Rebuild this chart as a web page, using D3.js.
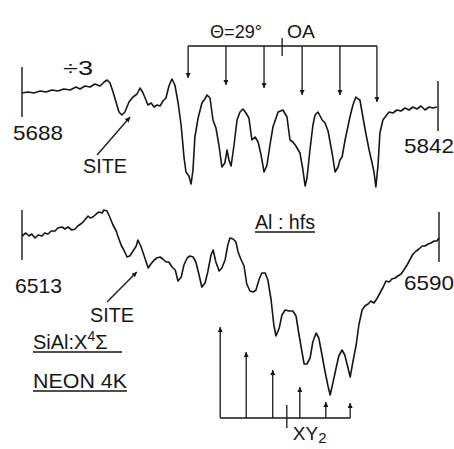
<!DOCTYPE html>
<html><head><meta charset="utf-8">
<script src="https://cdn.jsdelivr.net/npm/d3@7"></script>
<style>
html,body{margin:0;padding:0;background:#fff;}
svg{display:block;}
text{font-family:"Liberation Sans",Arial,Helvetica,sans-serif;fill:#161616;}
</style></head><body>
<svg id="chart" width="454" height="449"></svg>
<script>
// Upper ESR trace (field in G, derivative signal in arbitrary units, shown ÷3)
const topRange = [5688, 5842];
const topField = [
  5688.0, 5690.2, 5692.4, 5694.7, 5696.9, 5699.1, 5701.3, 5703.5, 5705.8, 5708.0,
  5709.5, 5711.3, 5713.2, 5715.0, 5716.9, 5718.4, 5719.5, 5720.6, 5721.7, 5722.8,
  5723.9, 5725.0, 5726.1, 5727.6, 5729.1, 5730.6, 5731.7, 5732.8, 5733.9, 5734.6,
  5735.8, 5736.9, 5738.0, 5739.1, 5740.2, 5741.3, 5742.4, 5743.5, 5744.6, 5745.8,
  5746.9, 5748.0, 5748.7, 5749.8, 5750.6, 5751.3, 5752.0, 5753.2, 5754.6, 5755.7,
  5756.5, 5757.6, 5758.7, 5759.8, 5760.9, 5762.0, 5763.1, 5763.9, 5764.6, 5765.4,
  5766.5, 5767.6, 5768.7, 5769.8, 5770.9, 5772.0, 5773.1, 5774.3, 5775.4, 5776.5,
  5777.6, 5778.7, 5779.8, 5780.9, 5782.8, 5784.6, 5786.1, 5787.2, 5788.3, 5789.4,
  5790.9, 5792.0, 5792.8, 5793.5, 5794.6, 5795.7, 5796.5, 5797.6, 5799.1, 5800.2,
  5801.3, 5802.8, 5803.9, 5805.0, 5805.7, 5806.5, 5807.6, 5809.4, 5810.5, 5811.6,
  5812.4, 5813.1, 5814.2, 5815.4, 5816.5, 5817.6, 5818.3, 5819.0, 5819.8, 5820.5,
  5821.6, 5822.7, 5823.9, 5825.3, 5826.8, 5828.3, 5829.8, 5831.3, 5832.7, 5834.2,
  5835.7, 5837.2, 5838.7, 5840.1, 5841.6
];
const topSignal = [
  0, 1, 0, 2, 1, 3, 2, 4, 3, 6,
  4, 7, 6, 9, 7, 11, 13, 10, 1, -9,
  -19, -22, -19, -9, -4, -1, 5, 0, -7, -12,
  -10, -14, -12, -13, -8, -5, 7, 14, 8, -10,
  -32, -65, -79, -83, -91, -77, -44, -25, -10, -6,
  -2, -5, -27, -35, -52, -74, -70, -57, -67, -73,
  -52, -27, -19, -16, -20, -25, -47, -44, -49, -62,
  -79, -72, -52, -34, -19, -17, -24, -47, -49, -53,
  -60, -77, -93, -85, -57, -32, -22, -19, -27, -30,
  -38, -60, -79, -74, -67, -64, -47, -24, -12, -4,
  -6, -7, -24, -42, -57, -70, -79, -94, -72, -40,
  -27, -23, -19, -20, -17, -18, -15, -17, -14, -16,
  -13, -17, -14, -15, -14
];

// Lower ESR trace
const botRange = [6513, 6590];
const botField = [
  6513.0, 6513.7, 6514.3, 6514.8, 6515.4, 6516.0, 6516.7, 6517.2, 6517.8, 6518.4,
  6519.1, 6519.6, 6520.4, 6520.9, 6521.5, 6522.2, 6522.8, 6523.3, 6524.1, 6524.6,
  6525.2, 6525.6, 6526.1, 6526.7, 6527.2, 6527.8, 6528.1, 6528.7, 6529.2, 6529.8,
  6530.4, 6530.7, 6531.3, 6531.8, 6532.4, 6532.9, 6533.5, 6534.1, 6534.4, 6535.0,
  6535.5, 6536.3, 6536.8, 6537.4, 6537.9, 6538.5, 6539.0, 6539.6, 6540.1, 6540.7,
  6541.3, 6541.8, 6542.4, 6542.9, 6543.5, 6544.0, 6544.6, 6545.1, 6545.7, 6546.2,
  6546.8, 6547.3, 6547.9, 6548.3, 6548.8, 6549.4, 6549.9, 6550.5, 6551.0, 6551.4,
  6552.0, 6552.5, 6552.9, 6553.4, 6554.0, 6554.5, 6555.1, 6555.7, 6556.2, 6556.8,
  6557.3, 6557.9, 6558.4, 6559.0, 6559.5, 6559.9, 6560.5, 6561.0, 6561.6, 6562.3,
  6563.0, 6563.6, 6564.1, 6564.7, 6565.1, 6565.6, 6566.2, 6566.7, 6567.3, 6567.8,
  6568.4, 6568.9, 6569.5, 6569.9, 6570.4, 6571.0, 6571.5, 6572.1, 6572.6, 6573.2,
  6573.6, 6574.1, 6574.7, 6575.2, 6575.8, 6576.3, 6576.9, 6577.4, 6578.0, 6578.6,
  6579.1, 6579.7, 6580.2, 6580.8, 6581.3, 6581.9, 6582.4, 6583.0, 6583.5, 6584.1,
  6584.6, 6585.2, 6585.8, 6586.3, 6586.9, 6587.4, 6588.0, 6588.5, 6589.1, 6589.6,
  6590.0
];
const botSignal = [
  4, 7, 4, 6, 2, 5, 4, 7, 6, 9,
  9, 12, 13, 11, 13, 10, 11, 14, 17, 20,
  24, 22, 23, 26, 28, 27, 30, 29, 23, 15,
  9, 4, -5, -10, -17, -16, -11, -6, 0, -7,
  -15, -28, -24, -20, -18, -17, -19, -22, -22, -27,
  -30, -41, -37, -25, -18, -16, -17, -22, -35, -47,
  -43, -32, -15, -10, -22, -31, -28, -20, -5, 2,
  1, -2, -12, -19, -26, -44, -51, -52, -50, -39,
  -33, -33, -40, -60, -85, -96, -88, -75, -70, -71,
  -71, -76, -93, -112, -124, -124, -118, -102, -93, -98,
  -115, -130, -146, -155, -143, -128, -116, -110, -115, -128,
  -137, -122, -105, -85, -70, -66, -64, -61, -63, -58,
  -53, -47, -41, -42, -39, -38, -36, -34, -30, -25,
  -20, -14, -11, -9, -6, -6, -4, -3, -1, -1,
  2
];

// Al hyperfine sextet, θ = 29° from the OA (upper trace)
const sextetField = [5749.5, 5763.5, 5777.6, 5791.7, 5805.7, 5819.4];
const sextetTip = [15, 8, 5, -2, -2, -9];
const sextetCentre = 5784.3;
const sextetLevel = 47;

// XY2 stick pattern (lower trace)
const stickField = [6549.6, 6554.4, 6559.3, 6564.3, 6569.1, 6573.6];
const stickIntensity = [91, 66, 48, 31, 16, 15];
const stickCentre = 6561.9;

// Site features marked with arrows: [tail field, tail signal, tip field, tip signal]
const topSite = [5715.8, -62, 5728.0, -24];
const botSite = [6528.7, -62, 6534.2, -32];

const svg = d3.select("#chart");
const ink = "#161616";

const xTop = d3.scaleLinear().domain(topRange).range([22, 438]);
const yTop = d3.scaleLinear().domain([-110, 50]).range([203, 43]);
const xBot = d3.scaleLinear().domain(botRange).range([22, 439]);
const yBot = d3.scaleLinear().domain([-160, 40]).range([400, 200]);
const yStick = d3.scaleLinear().domain([0, 100]).range([418, 318]);

// arrowhead marker
svg.append("defs").append("marker")
  .attr("id", "head").attr("viewBox", "0 0 10 10")
  .attr("refX", 10).attr("refY", 5)
  .attr("markerUnits", "userSpaceOnUse")
  .attr("markerWidth", 7).attr("markerHeight", 5)
  .attr("orient", "auto")
  .append("path").attr("d", "M0,0L10,5L0,10Z").attr("fill", ink);

function trace(fields, signals, x, y) {
  const pts = fields.map((f, i) => [x(f), y(signals[i])]);
  svg.append("path")
    .attr("d", d3.line()(pts))
    .attr("fill", "none").attr("stroke", ink)
    .attr("stroke-width", 1.6).attr("stroke-linejoin", "round");
}
trace(topField, topSignal, xTop, yTop);
trace(botField, botSignal, xBot, yBot);

// field end markers
function endMarker(xs, ys, f, s) {
  svg.append("line")
    .attr("x1", xs(f)).attr("x2", xs(f))
    .attr("y1", ys(s + 26)).attr("y2", ys(s - 24))
    .attr("stroke", ink).attr("stroke-width", 1.4);
}
endMarker(xTop, yTop, topRange[0], topSignal[0]);
endMarker(xTop, yTop, topRange[1], topSignal[topSignal.length - 1]);
endMarker(xBot, yBot, botRange[0], botSignal[0]);
endMarker(xBot, yBot, botRange[1], botSignal[botSignal.length - 1]);

function label(txt, x, y, size, opts = {}) {
  const t = svg.append("text").attr("x", x).attr("y", y)
    .attr("font-size", size).text(txt);
  if (opts.len) t.attr("textLength", opts.len).attr("lengthAdjust", "spacingAndGlyphs");
  if (opts.anchor) t.attr("text-anchor", opts.anchor);
  return t;
}
label(String(topRange[0]), xTop(topRange[0]) - 9, 140, 21, {len: 50});
label(String(topRange[1]), xTop(topRange[1]) - 34, 153, 21, {len: 50});
label(String(botRange[0]), xBot(botRange[0]) - 7, 293, 21, {len: 47});
label(String(botRange[1]), xBot(botRange[1]) - 35, 290, 21, {len: 50});
label("÷3", 63, 75, 21, {len: 30});

// SITE annotations
function siteArrow(xs, ys, s, tx, ty) {
  svg.append("line")
    .attr("x1", xs(s[0])).attr("y1", ys(s[1]))
    .attr("x2", xs(s[2])).attr("y2", ys(s[3]))
    .attr("stroke", ink).attr("stroke-width", 1.3)
    .attr("marker-end", "url(#head)");
  label("SITE", tx, ty, 20, {len: 44});
}
siteArrow(xTop, yTop, topSite, 83, 173);
siteArrow(xBot, yBot, botSite, 90, 322);

// sextet bracket with down arrows
const bx0 = xTop(sextetField[0]), bx1 = xTop(sextetField[sextetField.length - 1]);
const by = yTop(sextetLevel);
svg.append("line").attr("x1", bx0).attr("x2", bx1).attr("y1", by).attr("y2", by)
  .attr("stroke", ink).attr("stroke-width", 1.3);
svg.append("line").attr("x1", xTop(sextetCentre)).attr("x2", xTop(sextetCentre))
  .attr("y1", by - 8).attr("y2", by + 10)
  .attr("stroke", ink).attr("stroke-width", 1.3);
sextetField.forEach((f, i) => {
  svg.append("line").attr("x1", xTop(f)).attr("x2", xTop(f))
    .attr("y1", by).attr("y2", yTop(sextetTip[i]))
    .attr("stroke", ink).attr("stroke-width", 1.3)
    .attr("marker-end", "url(#head)");
});
label("Θ=29°", 210, 38, 18, {len: 52});
label("OA", 287, 38, 18, {len: 28});

// XY2 stick diagram
const sx0 = xBot(stickField[0]), sx1 = xBot(stickField[stickField.length - 1]);
svg.append("line").attr("x1", sx0).attr("x2", sx1)
  .attr("y1", yStick(0)).attr("y2", yStick(0))
  .attr("stroke", ink).attr("stroke-width", 1.3);
stickField.forEach((f, i) => {
  svg.append("line").attr("x1", xBot(f)).attr("x2", xBot(f))
    .attr("y1", yStick(0)).attr("y2", yStick(stickIntensity[i]))
    .attr("stroke", ink).attr("stroke-width", 1.3)
    .attr("marker-end", "url(#head)");
});
svg.append("line").attr("x1", xBot(stickCentre)).attr("x2", xBot(stickCentre))
  .attr("y1", yStick(13)).attr("y2", yStick(-10))
  .attr("stroke", ink).attr("stroke-width", 1.3);
const xy = svg.append("text").attr("x", xBot(stickCentre) + 6).attr("y", 440).attr("font-size", 19);
xy.append("tspan").text("XY");
xy.append("tspan").attr("dy", 3).attr("font-size", 15).text("2");

// underlined captions
function underline(x0, x1, y) {
  svg.append("line").attr("x1", x0).attr("x2", x1).attr("y1", y).attr("y2", y)
    .attr("stroke", ink).attr("stroke-width", 1.3);
}
label("Al : hfs", 255, 229, 20, {len: 60});
underline(255, 315, 232);

const mol = svg.append("text").attr("x", 33).attr("y", 349).attr("font-size", 20);
mol.append("tspan").text("SiAl:X");
mol.append("tspan").attr("dy", -8).attr("font-size", 14).text("4");
mol.append("tspan").attr("dy", 8).text("Σ");
underline(33, 122, 352);

label("NEON 4K", 33, 388, 20, {len: 94});
underline(33, 127, 391);
</script>
</body></html>
